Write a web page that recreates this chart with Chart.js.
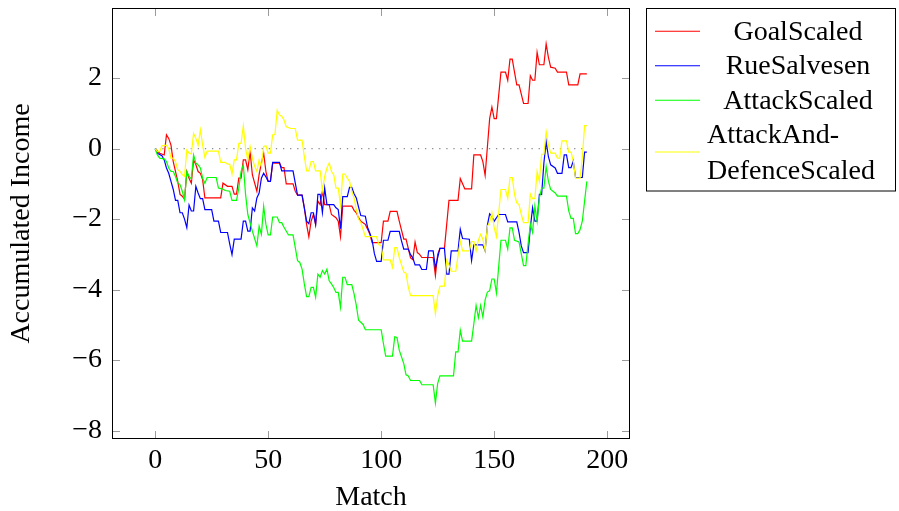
<!DOCTYPE html>
<html>
<head>
<meta charset="utf-8">
<title>Accumulated Income</title>
<script src="https://cdn.jsdelivr.net/npm/chart.js@4.4.0/dist/chart.umd.min.js"></script>
<style>
    html, body { margin: 0; padding: 0; background: #fff; }
    #incomeChart { display: block; }
</style>
</head>
<body>
<canvas id="incomeChart" width="899" height="511"></canvas>
<script>
/**
 * Accumulated income per match for four betting strategies
 */

// [match, accumulated income] at each change of the running total
const goalScaled = [
    [0,0],[2,-0.13],[4,-0.18],[5,0.39],[6,0.29],[7,0.1],[8,-0.37],[10,-0.93],[11,-1.3],[12,-1.35],
    [13,-1.44],[14,-0.65],[15,-0.84],[16,-0.98],[17,-0.32],[18,-0.45],[19,-0.65],[20,-0.7],[21,-0.88],
    [22,-1.4],[29,-1.4],[30,-0.98],[32,-1.07],[34,-1.07],[35,-1.29],[36,-1.29],[37,-0.84],[38,-0.84],
    [39,-0.32],[40,-0.32],[41,-0.6],[42,-0.08],[43,-0.74],[45,-1.21],[46,-0.73],[47,-0.41],[48,-0.13],
    [49,-0.65],[50,-0.93],[51,-0.93],[52,-0.41],[55,-0.41],[56,-0.54],[57,-0.54],[58,-1.0],[61,-1.0],
    [62,-1.21],[63,-1.32],[65,-1.32],[66,-1.68],[67,-2.15],[68,-2.5],[69,-2.06],[70,-1.87],[71,-2.15],
    [72,-1.49],[73,-1.59],[74,-1.21],[75,-1.59],[77,-1.59],[78,-1.87],[80,-1.96],[81,-2.06],[82,-2.5],
    [83,-1.63],[87,-1.63],[88,-1.75],[89,-1.82],[90,-1.96],[91,-2.06],[93,-2.15],[94,-2.29],[95,-2.43],
    [96,-2.67],[100,-2.67],[101,-2.06],[103,-2.06],[104,-1.78],[107,-1.78],[108,-2.06],[110,-2.57],
    [111,-2.57],[113,-3.1],[114,-3.15],[115,-2.65],[116,-2.95],[117,-3.0],[118,-3.09],[123,-3.09],
    [124,-3.6],[125,-3.0],[126,-2.83],[128,-2.83],[130,-1.47],[134,-1.47],[135,-0.85],[137,-1.14],
    [140,-1.14],[141,-0.18],[144,-0.18],[145,-0.37],[146,-0.76],[148,0.85],[149,1.18],[150,0.85],
    [151,0.85],[153,2.17],[155,2.17],[156,1.94],[157,2.54],[158,2.54],[159,2.17],[160,1.81],[161,1.81],
    [163,1.28],[165,1.28],[166,2.07],[167,1.94],[168,1.94],[169,2.73],[170,2.38],[172,2.38],[173,2.97],
    [174,2.59],[175,2.31],[177,2.28],[178,2.17],[182,2.17],[183,1.81],[187,1.81],[188,2.12],[191,2.12]
];

const rueSalvesen = [
    [0,0],[1,-0.13],[3,-0.2],[4,-0.32],[5,-0.55],[6,-0.7],[7,-0.93],[8,-1.16],[9,-1.47],[10,-1.47],
    [11,-1.82],[12,-1.82],[13,-2.0],[14,-2.24],[15,-1.6],[16,-1.77],[17,-1.77],[18,-1.07],[19,-1.26],
    [20,-1.42],[21,-1.42],[22,-1.73],[25,-1.73],[26,-2.06],[28,-2.06],[29,-2.38],[32,-2.38],[33,-2.71],
    [34,-3.01],[35,-2.57],[38,-2.57],[39,-2.06],[40,-2.06],[41,-2.34],[42,-2.34],[43,-1.68],[44,-1.77],
    [45,-1.4],[46,-1.26],[47,-0.84],[48,-0.7],[49,-0.8],[50,-0.93],[51,-0.93],[52,-0.39],[55,-0.39],
    [56,-0.63],[61,-0.63],[62,-0.98],[63,-1.32],[65,-1.32],[66,-1.68],[67,-2.06],[68,-2.13],[69,-1.82],
    [70,-1.82],[71,-2.15],[72,-1.3],[73,-1.3],[74,-1.82],[75,-1.12],[76,-1.59],[79,-1.59],[80,-1.68],
    [81,-1.73],[82,-2.27],[83,-1.36],[85,-1.36],[86,-1.1],[87,-1.1],[88,-1.28],[89,-1.4],[90,-1.66],
    [91,-1.9],[93,-1.92],[94,-2.24],[95,-2.4],[96,-2.6],[97,-2.98],[98,-3.2],[100,-3.2],[101,-2.6],
    [103,-2.6],[104,-2.35],[108,-2.35],[109,-2.62],[110,-2.85],[112,-2.85],[113,-3.01],[114,-3.1],
    [115,-3.3],[117,-3.3],[118,-3.43],[120,-3.43],[121,-2.9],[123,-2.9],[124,-3.39],[125,-3.09],
    [126,-2.83],[128,-2.83],[129,-3.56],[130,-3.56],[131,-2.9],[134,-2.9],[135,-2.29],[136,-2.55],
    [139,-2.57],[140,-3.18],[141,-2.73],[145,-2.73],[146,-2.9],[147,-2.17],[148,-1.85],[149,-1.92],
    [150,-2.06],[152,-1.87],[155,-1.87],[156,-2.08],[160,-2.08],[161,-2.38],[162,-2.76],[163,-2.95],
    [165,-2.95],[166,-2.24],[167,-1.68],[168,-2.06],[169,-2.06],[170,-1.3],[171,-1.3],[172,-0.41],
    [173,0.2],[174,-0.23],[175,-0.46],[177,-0.55],[178,-0.7],[180,-0.7],[181,-0.18],[182,-0.18],
    [183,-0.54],[184,-0.54],[185,-0.35],[186,-0.82],[189,-0.82],[190,-0.1],[191,-0.1]
];

const attackScaled = [
    [0,0],[1,-0.18],[2,-0.27],[4,-0.29],[5,-0.37],[6,-0.55],[7,-0.65],[8,-0.65],[9,-0.79],[10,-0.98],
    [11,-1.02],[12,-1.21],[13,-1.45],[14,-0.65],[15,-0.79],[16,-0.86],[17,-0.18],[18,-0.41],[19,-0.46],
    [20,-0.55],[21,-0.84],[22,-0.98],[23,-0.82],[27,-0.82],[28,-1.12],[30,-1.15],[31,-1.19],[33,-1.21],
    [34,-1.47],[36,-1.47],[37,-1.12],[38,-0.65],[39,-0.46],[40,-1.3],[41,-1.87],[43,-2.34],[44,-2.55],
    [45,-2.76],[46,-2.2],[47,-2.43],[48,-1.63],[49,-2.15],[50,-2.45],[51,-2.45],[52,-1.94],[54,-1.94],
    [55,-2.1],[56,-2.1],[57,-2.23],[59,-2.45],[61,-2.45],[62,-2.81],[63,-3.18],[64,-3.23],[65,-3.42],
    [66,-3.84],[67,-4.2],[68,-4.2],[69,-3.94],[70,-3.94],[71,-4.22],[72,-3.56],[73,-3.65],[74,-3.46],
    [75,-3.56],[76,-3.42],[77,-3.75],[78,-3.84],[79,-3.94],[80,-4.08],[81,-4.08],[82,-4.5],[83,-3.65],
    [84,-3.65],[85,-3.86],[87,-3.86],[88,-4.12],[89,-4.45],[90,-4.87],[92,-4.99],[93,-5.14],[100,-5.14],
    [101,-5.53],[102,-5.89],[105,-5.89],[106,-5.34],[107,-5.36],[108,-5.72],[110,-6.1],[111,-6.42],
    [112,-6.45],[113,-6.58],[117,-6.58],[118,-6.7],[123,-6.7],[124,-7.22],[125,-6.66],[126,-6.45],
    [132,-6.45],[133,-5.77],[134,-5.77],[135,-5.15],[136,-5.46],[140,-5.46],[141,-4.97],[142,-4.45],
    [143,-4.8],[144,-4.45],[145,-4.78],[146,-4.29],[147,-4.07],[148,-4.03],[149,-3.7],[150,-3.7],
    [151,-4.1],[153,-2.6],[155,-2.6],[156,-2.85],[157,-2.25],[158,-2.25],[159,-2.6],[161,-2.65],
    [162,-2.99],[163,-3.32],[164,-3.32],[165,-2.7],[166,-2.15],[167,-2.38],[168,-1.63],[169,-2.06],
    [170,-1.4],[171,-1.12],[172,-1.12],[173,-0.51],[174,-0.93],[175,-1.16],[177,-1.26],[178,-1.35],
    [182,-1.35],[183,-1.77],[184,-1.98],[185,-1.98],[186,-2.41],[187,-2.41],[188,-2.3],[189,-2.06],
    [191,-0.93]
];

const attackAndDefenceScaled = [
    [0,0],[1,-0.08],[2,-0.08],[3,0.08],[5,0.1],[6,0],[7,-0.27],[8,-0.27],[9,-0.37],[10,-0.6],[11,-0.65],
    [12,-0.74],[13,-0.79],[14,-0.04],[15,-0.13],[16,-0.15],[17,0.43],[18,0.29],[19,0.1],[20,0.53],
    [21,0.1],[22,-0.25],[23,-0.07],[28,-0.07],[29,-0.39],[31,-0.39],[32,-0.44],[33,-0.44],[34,-0.72],
    [35,-0.32],[36,-0.32],[37,0.15],[38,0.15],[39,0.65],[40,0],[41,-0.32],[42,0.06],[43,-0.27],
    [44,-0.5],[45,-0.65],[46,-0.32],[47,-0.51],[48,0.06],[49,0.08],[50,-0.13],[51,-0.13],[52,0.39],
    [53,0.4],[54,1.09],[55,0.95],[56,0.92],[57,0.81],[58,0.62],[60,0.57],[62,0.57],[63,0.24],[65,0.24],
    [66,-0.23],[67,-0.63],[68,-0.63],[69,-0.37],[70,-0.37],[71,-0.63],[73,-0.63],[74,-1.19],[75,-0.79],
    [76,-0.55],[77,-0.41],[78,-0.65],[79,-0.74],[80,-1.12],[81,-1.12],[82,-1.6],[83,-0.72],[84,-0.72],
    [85,-0.84],[86,-0.93],[87,-1.21],[88,-1.4],[89,-1.73],[90,-2.0],[91,-2.1],[92,-2.3],[93,-2.5],
    [98,-2.5],[99,-2.73],[100,-2.75],[101,-3.16],[104,-3.16],[105,-3.37],[106,-2.81],[107,-2.81],
    [108,-3.09],[109,-3.3],[110,-3.5],[111,-3.54],[112,-3.93],[113,-4.17],[123,-4.17],[124,-4.69],
    [125,-4.17],[126,-3.9],[128,-3.9],[129,-3.16],[130,-3.3],[131,-3.48],[133,-3.48],[135,-2.62],
    [136,-2.9],[139,-2.9],[140,-2.64],[141,-2.64],[142,-2.9],[143,-2.6],[144,-2.43],[145,-2.57],
    [146,-2.9],[147,-2.2],[148,-2.1],[149,-1.82],[150,-2.24],[151,-2.5],[153,-1.16],[155,-1.16],
    [156,-1.42],[157,-0.82],[158,-0.82],[159,-1.3],[160,-1.54],[161,-1.59],[162,-1.87],[163,-2.1],
    [165,-2.1],[166,-1.29],[167,-1.42],[168,-1.42],[169,-0.65],[170,-0.93],[171,-0.16],[172,-0.16],
    [173,0.48],[174,0.1],[175,-0.13],[177,-0.13],[178,-0.27],[179,-0.27],[180,0.22],[182,0.22],
    [183,-0.1],[184,-0.1],[185,-0.35],[186,-0.84],[188,-0.84],[189,-0.27],[190,0.65],[191,0.65]
];

// break-even reference line, first and last match
const breakEven = [[0,0],[191,0]];

const seriesNames = ['GoalScaled', 'RueSalvesen', 'AttackScaled', 'AttackAndDefenceScaled'];
const legendLines = [['GoalScaled'], ['RueSalvesen'], ['AttackScaled'], ['AttackAnd-', 'DefenceScaled']];
const seriesColors = ['#ff0000', '#0000ff', '#00ff00', '#ffff00'];

const xTicks = [0, 50, 100, 150, 200];
const yTicks = [-8, -6, -4, -2, 0, 2];

const SERIF = "'Liberation Serif', 'DejaVu Serif', serif";
const toPoints = rows => rows.map(([x, y]) => ({ x, y }));
const fmtNumber = v => (v < 0 ? '\u2212' : '') + Math.abs(v);

// box round the plot with short inward tick marks on all four sides
const axisFrame = {
    id: 'axisFrame',
    afterDatasetsDraw(chart) {
        const { ctx, chartArea: a, scales: { x, y } } = chart;
        ctx.save();
        ctx.strokeStyle = '#9b9b9b';
        ctx.lineWidth = 1;
        ctx.beginPath();
        xTicks.forEach(v => {
            const px = Math.round(x.getPixelForValue(v)) + 0.5;
            ctx.moveTo(px, a.bottom); ctx.lineTo(px, a.bottom - 8);
            ctx.moveTo(px, a.top); ctx.lineTo(px, a.top + 8);
        });
        yTicks.forEach(v => {
            const py = Math.round(y.getPixelForValue(v)) + 0.5;
            ctx.moveTo(a.left, py); ctx.lineTo(a.left + 8, py);
            ctx.moveTo(a.right, py); ctx.lineTo(a.right - 8, py);
        });
        ctx.stroke();
        ctx.strokeStyle = '#000';
        ctx.strokeRect(a.left + 0.5, a.top + 0.5, a.width - 1, a.height - 1);
        ctx.restore();
    }
};

// legend box to the right of the plot
const sideLegend = {
    id: 'sideLegend',
    afterDraw(chart) {
        const { ctx, chartArea } = chart;
        const left = chartArea.right + 16;
        const top = chartArea.top;
        const rowH = 34.5;
        ctx.save();
        ctx.font = '28px ' + SERIF;
        ctx.fillStyle = '#000';
        let y = top + 6;
        legendLines.forEach((lines, i) => {
            const h = lines.length * rowH;
            const mid = y + h / 2;
            ctx.strokeStyle = seriesColors[i];
            ctx.lineWidth = 1.2;
            ctx.beginPath();
            ctx.moveTo(left + 9, mid);
            ctx.lineTo(left + 54, mid);
            ctx.stroke();
            if (lines.length === 1) {
                ctx.textAlign = 'center';
                ctx.fillText(lines[0], left + 152, mid + 8.3);
            } else {
                ctx.textAlign = 'left';
                lines.forEach((t, j) => {
                    ctx.fillText(t, left + 61, y + rowH / 2 + 8.3 + j * (rowH + 1.5));
                });
            }
            y += h;
        });
        ctx.strokeStyle = '#000';
        ctx.lineWidth = 1;
        ctx.strokeRect(left + 0.5, top + 0.5, 249, y + 4 - top);
        ctx.restore();
    }
};

const lineSet = (label, rows, color, order) => ({
    label: label,
    data: toPoints(rows),
    borderColor: color,
    borderWidth: 1.2,
    pointRadius: 0,
    tension: 0,
    fill: false,
    order: order
});

const datasets = [
    lineSet(seriesNames[0], goalScaled, seriesColors[0], 4),
    lineSet(seriesNames[1], rueSalvesen, seriesColors[1], 3),
    lineSet(seriesNames[2], attackScaled, seriesColors[2], 2),
    lineSet(seriesNames[3], attackAndDefenceScaled, seriesColors[3], 1),
    {
        label: 'break-even',
        data: toPoints(breakEven),
        borderColor: '#8c8c8c',
        borderWidth: 1.2,
        borderDash: [1.3, 5.8],
        pointRadius: 0,
        order: 5
    }
];

new Chart(document.getElementById('incomeChart'), {
    type: 'line',
    data: { datasets: datasets },
    options: {
        responsive: false,
        animation: false,
        devicePixelRatio: 1,
        layout: { padding: { left: 0, top: 8, right: 269, bottom: 0 } },
        plugins: {
            legend: { display: false },
            tooltip: { enabled: false }
        },
        scales: {
            x: {
                type: 'linear',
                min: -19.1,
                max: 210.1,
                grid: { display: false, drawTicks: false },
                border: { display: false },
                ticks: {
                    stepSize: 50,
                    includeBounds: false,
                    autoSkip: false,
                    maxRotation: 0,
                    padding: 5,
                    color: '#000',
                    font: { family: SERIF, size: 28 },
                    callback: v => xTicks.includes(v) ? fmtNumber(v) : ''
                },
                title: {
                    display: true,
                    text: 'Match',
                    color: '#000',
                    font: { family: SERIF, size: 28 },
                    padding: { top: 0, bottom: -3 }
                },
                afterFit: scale => { scale.height = 72; scale.paddingLeft = 0; scale.paddingRight = 0; }
            },
            y: {
                min: -8.24,
                max: 3.99,
                grid: { display: false, drawTicks: false },
                border: { display: false },
                ticks: {
                    stepSize: 2,
                    includeBounds: false,
                    padding: 10,
                    color: '#000',
                    font: { family: SERIF, size: 28 },
                    callback: v => yTicks.includes(v) ? fmtNumber(v) : ''
                },
                title: {
                    display: true,
                    text: 'Accumulated Income',
                    color: '#000',
                    font: { family: SERIF, size: 28 },
                    padding: { top: 5, bottom: 0 }
                },
                afterFit: scale => { scale.width = 112; scale.paddingTop = 0; scale.paddingBottom = 0; }
            }
        }
    },
    plugins: [axisFrame, sideLegend]
});
</script>
</body>
</html>
